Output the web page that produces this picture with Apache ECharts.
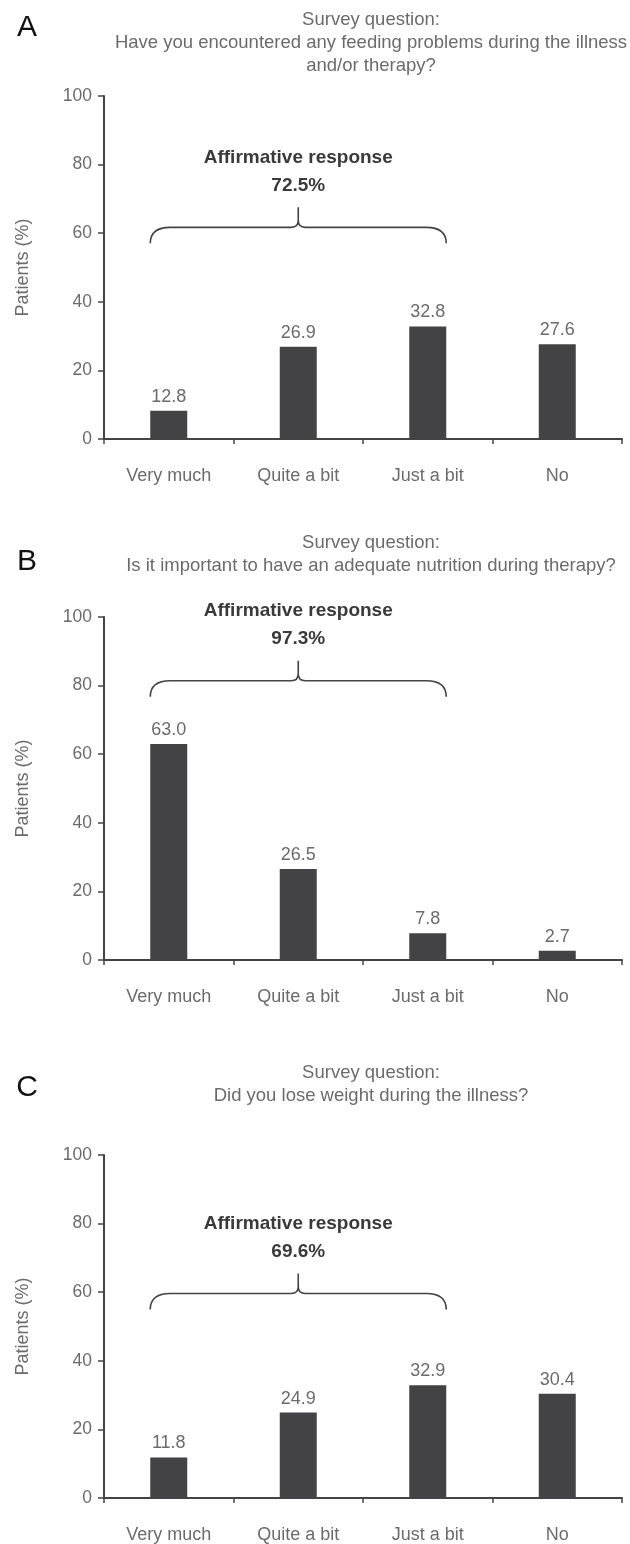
<!DOCTYPE html>
<html>
<head>
<meta charset="utf-8">
<script src="https://cdn.jsdelivr.net/npm/echarts@6/dist/echarts.min.js"></script>
<style>
  html, body { margin: 0; padding: 0; background: #fff; }
</style>
</head>
<body>
<div id="chart" style="width: 630px; height: 1544px;"></div>
<script>
// answer categories (same for every panel)
const categories = ['Very much', 'Quite a bit', 'Just a bit', 'No'];
const yTicks = [0, 20, 40, 60, 80, 100];

// bar heights as drawn, and the numbers printed above them
const heightsA = [8.2, 26.9, 32.8, 27.6];
const labelsA = ['12.8', '26.9', '32.8', '27.6'];
const heightsB = [63.0, 26.5, 7.8, 2.7];
const labelsB = ['63.0', '26.5', '7.8', '2.7'];
const heightsC = [11.8, 24.9, 32.9, 30.4];
const labelsC = ['11.8', '24.9', '32.9', '30.4'];

// affirmative totals and the level of the brace (in % units)
const affirmative = ['72.5%', '97.3%', '69.6%'];
const braceLevel = [61.7, 81.4, 59.6];

const questions = [
  'Survey question:\nHave you encountered any feeding problems during the illness\nand/or therapy?',
  'Survey question:\nIs it important to have an adequate nutrition during therapy?',
  'Survey question:\nDid you lose weight during the illness?'
];
const panelLetters = ['A', 'B', 'C'];

const FONT = '"Liberation Sans", Arial, Helvetica, sans-serif';
const GREY = '#6b6b6b';
const DARK = '#434345';
const BAR_W = 37;

const panels = [
  { heights: heightsA, labels: labelsA, top: 96, titleY: 20, letterY: 28 },
  { heights: heightsB, labels: labelsB, top: 617, titleY: 543, letterY: 562 },
  { heights: heightsC, labels: labelsC, top: 1155, titleY: 1073, letterY: 1088 }
];

const grids = [], xAxes = [], yAxes = [], series = [], graphics = [];

panels.forEach((p, i) => {
  grids.push({ left: 104, right: 8, top: p.top, height: 343 });

  xAxes.push({
    type: 'category',
    gridIndex: i,
    data: categories,
    axisLine: { lineStyle: { color: '#444', width: 2 } },
    axisTick: { show: true, length: 5, lineStyle: { color: '#444', width: 1.5 } },
    axisLabel: { interval: 0, margin: 28, fontSize: 18, color: GREY, fontFamily: FONT }
  });

  yAxes.push({
    type: 'value',
    gridIndex: i,
    min: yTicks[0],
    max: yTicks[yTicks.length - 1],
    interval: 20,
    name: 'Patients (%)',
    nameLocation: 'middle',
    nameGap: 72,
    nameTextStyle: { fontSize: 18, color: GREY, fontFamily: FONT },
    axisLine: { show: true, lineStyle: { color: '#444', width: 2 } },
    axisTick: { show: true, length: 6, lineStyle: { color: '#444', width: 1.5 } },
    axisLabel: { margin: 12, fontSize: 17.5, color: GREY, fontFamily: FONT },
    splitLine: { show: false }
  });

  series.push({
    type: 'bar',
    xAxisIndex: i,
    yAxisIndex: i,
    barWidth: BAR_W,
    data: p.heights,
    itemStyle: { color: DARK },
    label: {
      show: true,
      position: 'top',
      distance: 5,
      fontSize: 18,
      color: GREY,
      fontFamily: FONT,
      formatter: (d) => p.labels[d.dataIndex]
    },
    silent: true
  });

  // curly brace spanning the three affirmative answers
  series.push({
    type: 'custom',
    xAxisIndex: i,
    yAxisIndex: i,
    clip: false,
    silent: true,
    data: [[0, braceLevel[i]]],
    renderItem: (params, api) => {
      const lv = api.value(1);
      const a = api.coord([0, lv]);
      const b = api.coord([2, lv]);
      const x1 = a[0] - BAR_W / 2, x2 = b[0] + BAR_W / 2;
      const xc = (x1 + x2) / 2, y = a[1];
      const d = 'M' + x1 + ' ' + (y + 16) +
        ' Q' + x1 + ' ' + y + ' ' + (x1 + 20) + ' ' + y +
        ' L' + (xc - 7) + ' ' + y +
        ' Q' + xc + ' ' + y + ' ' + xc + ' ' + (y - 7) +
        ' L' + xc + ' ' + (y - 20) +
        ' M' + xc + ' ' + (y - 7) +
        ' Q' + xc + ' ' + y + ' ' + (xc + 7) + ' ' + y +
        ' L' + (x2 - 20) + ' ' + y +
        ' Q' + x2 + ' ' + y + ' ' + x2 + ' ' + (y + 16);
      return {
        type: 'group',
        children: [
          { type: 'path', shape: { pathData: d }, style: { fill: 'none', stroke: '#444', lineWidth: 1.6 } },
          { type: 'text', x: xc, y: y - 70, style: { text: 'Affirmative response', font: 'bold 19px ' + FONT, fill: '#3a3a3a', align: 'center', verticalAlign: 'middle' } },
          { type: 'text', x: xc, y: y - 42, style: { text: affirmative[i], font: 'bold 19px ' + FONT, fill: '#3a3a3a', align: 'center', verticalAlign: 'middle' } }
        ]
      };
    }
  });

  graphics.push({
    type: 'text', x: 371, y: p.titleY - 11.5,
    style: { text: questions[i], font: '18.5px ' + FONT, fill: GREY, lineHeight: 23,
      align: 'center', verticalAlign: 'top', textAlign: 'center', textVerticalAlign: 'top' }
  });
  graphics.push({
    type: 'text', x: 27, y: p.letterY,
    style: { text: panelLetters[i], font: '30px ' + FONT, fill: '#111',
      align: 'center', verticalAlign: 'middle', textAlign: 'center', textVerticalAlign: 'middle' }
  });
});

const chart = echarts.init(document.getElementById('chart'), null, { renderer: 'canvas' });
chart.setOption({
  animation: false,
  grid: grids,
  xAxis: xAxes,
  yAxis: yAxes,
  series: series,
  graphic: graphics
});
</script>
</body>
</html>
